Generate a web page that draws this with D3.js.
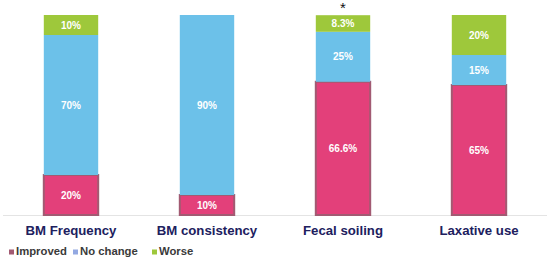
<!DOCTYPE html>
<html>
<head>
<meta charset="utf-8">
<script src="https://cdn.jsdelivr.net/npm/d3@7"></script>
<style>
  body { margin: 0; background: #fff; }
  svg { display: block; font-family: "Liberation Sans", Arial, sans-serif; }
</style>
</head>
<body>
<div id="chart"></div>
<script>
const categories = ["BM Frequency", "BM consistency", "Fecal soiling", "Laxative use"];
const seriesNames = ["Improved", "No change", "Worse"];
const improved = [20, 10, 66.6, 65];
const noChange = [70, 90, 25, 15];
const worse = [10, 0, 8.3, 20];
const starred = ["Fecal soiling"];

const fills = { "Improved": "#e3407a", "No change": "#6cc1e9", "Worse": "#9ec83b" };
const swatches = { "Improved": "#a25a72", "No change": "#93a9e2", "Worse": "#9ec83b" };

const width = 550, height = 261;
const svg = d3.select("#chart").append("svg").attr("width", width).attr("height", height);

const x = d3.scaleBand().domain(categories).range([3, 547]).paddingInner(0.6).paddingOuter(0.3);
const y = d3.scaleLinear().domain([0, 100]).range([215, 15]);

const rows = categories.map((c, i) => ({
  category: c, "Improved": improved[i], "No change": noChange[i], "Worse": worse[i]
}));
const stacked = d3.stack().keys(seriesNames)(rows);

// baseline
svg.append("line")
  .attr("x1", 3).attr("x2", 547)
  .attr("y1", y(0) + 0.5).attr("y2", y(0) + 0.5)
  .attr("stroke", "#e4e4e4");

const layers = svg.append("g").selectAll("g")
  .data(stacked)
  .join("g")
  .attr("fill", (d) => fills[d.key]);

layers.selectAll("rect")
  .data((d) => d.map((v) => ({ key: d.key, v })))
  .join("rect")
  .attr("x", (d) => x(d.v.data.category))
  .attr("width", x.bandwidth())
  .attr("y", (d) => y(d.v[1]))
  .attr("height", (d) => y(d.v[0]) - y(d.v[1]))
  .attr("stroke", (d) => (d.key === "Improved" ? "#a25a72" : "none"))
  .attr("stroke-width", 2);

// value labels
layers.selectAll("text")
  .data((d) => d.filter((v) => v[1] - v[0] > 0).map((v) => ({ key: d.key, v })))
  .join("text")
  .attr("x", (d) => x(d.v.data.category) + x.bandwidth() / 2)
  .attr("y", (d) => y((d.v[0] + d.v[1]) / 2) + 3.5)
  .attr("text-anchor", "middle")
  .attr("fill", "#fff")
  .attr("font-size", 10)
  .attr("font-weight", "bold")
  .text((d) => `${d.v.data[d.key]}%`);

// asterisk
svg.selectAll(".star")
  .data(starred)
  .join("text")
  .attr("class", "star")
  .attr("x", (d) => x(d) + x.bandwidth() / 2)
  .attr("y", y(100) - 2)
  .attr("text-anchor", "middle")
  .attr("font-size", 15)
  .attr("fill", "#111")
  .text("*");

// category axis
const axis = svg.append("g")
  .attr("transform", `translate(0,${y(0)})`)
  .call(d3.axisBottom(x).tickSize(0).tickPadding(0));
axis.select(".domain").remove();
axis.selectAll("text")
  .attr("dy", null)
  .attr("y", 19.7)
  .attr("font-size", 13.2)
  .attr("font-weight", "bold")
  .attr("fill", "#20205e")
  .attr("font-family", "Liberation Sans, Arial, sans-serif");

// legend
const legendX = [9, 73, 152];
const legend = svg.append("g").selectAll("g")
  .data(seriesNames)
  .join("g")
  .attr("transform", (d, i) => `translate(${legendX[i]},255)`);
legend.append("rect")
  .attr("y", -5.5).attr("width", 5).attr("height", 5)
  .attr("fill", (d) => swatches[d]);
legend.append("text")
  .attr("x", 7).attr("y", 0)
  .attr("font-size", 11.3)
  .attr("font-weight", "bold")
  .attr("fill", "#3a3a3a")
  .text((d) => d);
</script>
</body>
</html>
